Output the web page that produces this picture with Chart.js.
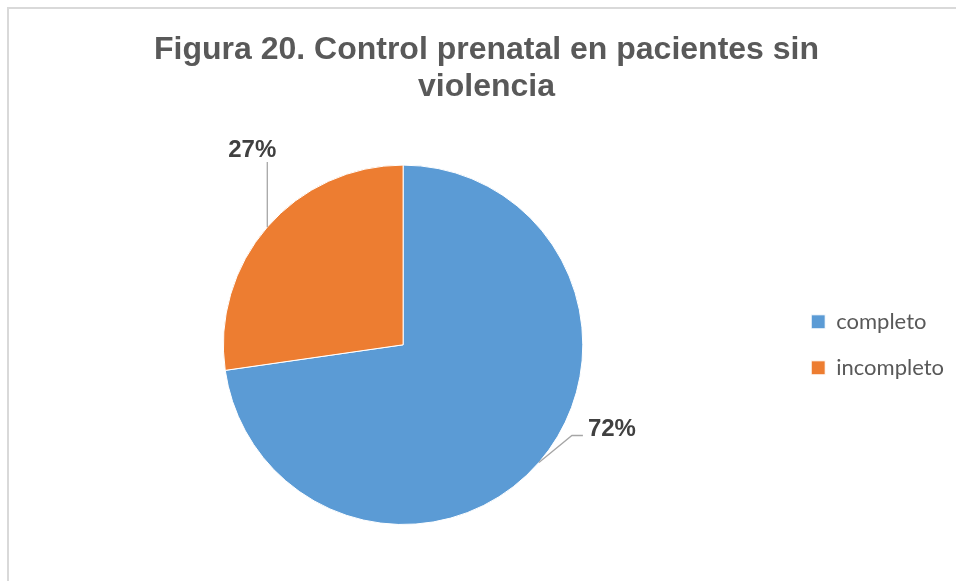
<!DOCTYPE html>
<html>
<head>
<meta charset="utf-8">
<script src="https://cdn.jsdelivr.net/npm/chart.js@4"></script>
<style>
  html, body { margin: 0; padding: 0; background: #ffffff; }
  #wrap { position: relative; width: 956px; height: 581px; overflow: hidden; }
  #frame { position: absolute; left: 7px; top: 7px; width: 1000px; height: 1000px; border-top: 2px solid #D9D9D9; border-left: 2px solid #D9D9D9; }
  canvas { position: absolute; left: 0; top: 0; }
</style>
</head>
<body>
<div id="wrap">
  <div id="frame"></div>
  <canvas id="c" width="956" height="581"></canvas>
</div>
<script>
const titleLines = ['Figura 20. Control prenatal en pacientes sin', 'violencia'];
const categories = ['completo', 'incompleto'];
const values = [72, 27];
const sliceColors = ['#5B9BD5', '#ED7D31'];

const leaderLabels = {
  id: 'leaderLabels',
  afterDatasetsDraw(chart) {
    const ctx = chart.ctx;
    const meta = chart.getDatasetMeta(0);
    ctx.save();
    meta.data.forEach((arc, i) => {
      const p = arc.getProps(['x', 'y', 'startAngle', 'endAngle', 'outerRadius'], true);
      const mid = (p.startAngle + p.endAngle) / 2;
      const ex = p.x + Math.cos(mid) * p.outerRadius;
      const ey = p.y + Math.sin(mid) * p.outerRadius;
      const text = values[i] + '%';
      ctx.strokeStyle = '#A6A6A6';
      ctx.lineWidth = 1.3;
      ctx.fillStyle = '#404040';
      ctx.font = 'bold 24px "Liberation Sans", Arial, sans-serif';
      ctx.beginPath();
      if (ex >= p.x) {
        const bx = ex + 33, by = ey - 27;
        ctx.moveTo(ex, ey);
        ctx.lineTo(bx, by);
        ctx.lineTo(bx + 11, by);
        ctx.stroke();
        ctx.textAlign = 'left';
        ctx.textBaseline = 'alphabetic';
        ctx.fillText(text, bx + 16, by + 1);
      } else {
        const ty = ey - 65;
        ctx.moveTo(ex, ey);
        ctx.lineTo(ex, ty);
        ctx.stroke();
        ctx.textAlign = 'center';
        ctx.textBaseline = 'alphabetic';
        ctx.fillText(text, ex - 15, ty - 5);
      }
    });
    ctx.restore();
  }
};

new Chart(document.getElementById('c'), {
  type: 'pie',
  data: {
    labels: categories,
    datasets: [{
      data: values,
      backgroundColor: sliceColors,
      borderColor: '#ffffff',
      borderWidth: 1
    }]
  },
  options: {
    responsive: false,
    animation: false,
    layout: { padding: { left: 19, right: 2, top: 0, bottom: 56 } },
    plugins: {
      title: {
        display: true,
        text: titleLines,
        color: '#595959',
        font: { family: '"Liberation Sans", Arial, sans-serif', size: 32, weight: 'bold', lineHeight: 1.15 },
        padding: { top: 32, bottom: 59 }
      },
      legend: {
        display: true,
        position: 'right',
        fullSize: false,
        labels: {
          boxWidth: 14,
          boxHeight: 14,
          padding: 24,
          color: '#595959',
          font: { family: 'Lato, sans-serif', size: 22 }
        }
      },
      tooltip: { enabled: false }
    }
  },
  plugins: [leaderLabels]
});
</script>
</body>
</html>
